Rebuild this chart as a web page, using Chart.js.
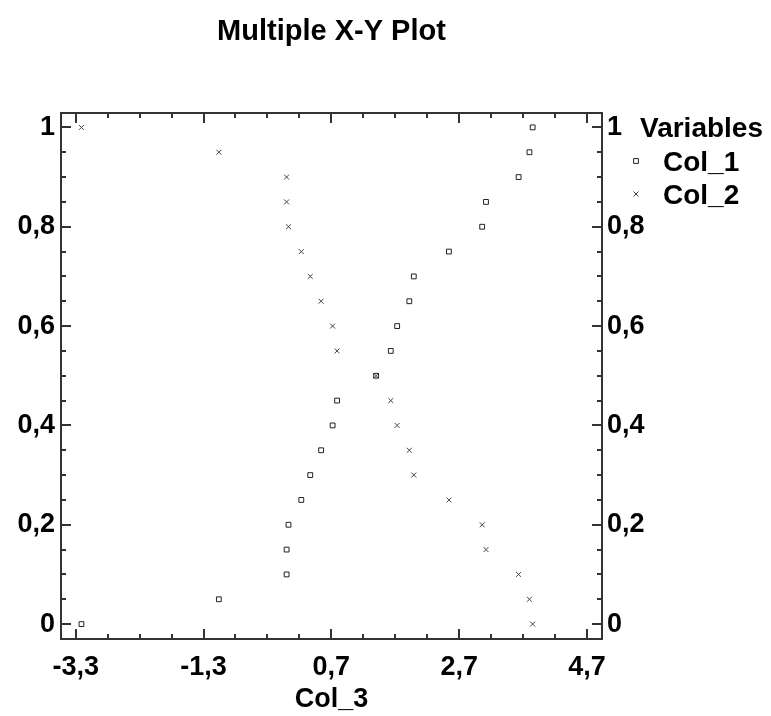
<!DOCTYPE html>
<html>
<head>
<meta charset="utf-8">
<script src="https://cdn.jsdelivr.net/npm/chart.js@4.4.1/dist/chart.umd.min.js"></script>
<style>
    body { margin: 0; background: #fff; }
</style>
</head>
<body>
<canvas id="grafica" width="771" height="716"></canvas>
<script>
// valores de Col_3 (eje x)
const col3 = [-3.21, -1.06, 0.0, 0.0, 0.03, 0.23, 0.37, 0.54, 0.72, 0.79, 1.40,
              1.63, 1.73, 1.92, 1.99, 2.54, 3.06, 3.12, 3.63, 3.80, 3.85];
const col1 = [0, 0.05, 0.1, 0.15, 0.2, 0.25, 0.3, 0.35, 0.4, 0.45, 0.5,
              0.55, 0.6, 0.65, 0.7, 0.75, 0.8, 0.85, 0.9, 0.95, 1];
const col2 = [1, 0.95, 0.9, 0.85, 0.8, 0.75, 0.7, 0.65, 0.6, 0.55, 0.5,
              0.45, 0.4, 0.35, 0.3, 0.25, 0.2, 0.15, 0.1, 0.05, 0];
const nombres = ['Col_1', 'Col_2'];
const xTicks = [-3.3, -1.3, 0.7, 2.7, 4.7];
const yTicks = [0, 0.2, 0.4, 0.6, 0.8, 1];

const fuente = { family: '"Liberation Sans", Arial, sans-serif', size: 27, weight: 'bold' };
const coma = v => String(v).replace('.', ',');
const sinRejilla = { display: false, drawTicks: false, tickLength: 0 };

function puntos(ys) {
    return col3.map((x, i) => ({ x: x, y: ys[i] }));
}

// marco, marcas interiores, titulo y leyenda
const marco = {
    id: 'marco',
    afterDraw(chart) {
        const ctx = chart.ctx;
        const a = chart.chartArea;
        const sx = chart.scales.x, sy = chart.scales.y;
        ctx.save();
        ctx.strokeStyle = '#333';
        ctx.lineWidth = 2;
        ctx.strokeRect(a.left, a.top, a.right - a.left, a.bottom - a.top);

        ctx.beginPath();
        for (let i = 0; i <= 16; i++) {
            const px = Math.round(sx.getPixelForValue(xTicks[0] + i * 0.5));
            const len = i % 4 === 0 ? 10 : 5;
            ctx.moveTo(px, a.bottom); ctx.lineTo(px, a.bottom - len);
            ctx.moveTo(px, a.top); ctx.lineTo(px, a.top + len);
        }
        for (let i = 0; i <= 20; i++) {
            const py = Math.round(sy.getPixelForValue(i * 0.05));
            const len = i % 4 === 0 ? 10 : 5;
            ctx.moveTo(a.left, py); ctx.lineTo(a.left + len, py);
            ctx.moveTo(a.right, py); ctx.lineTo(a.right - len, py);
        }
        ctx.stroke();

        ctx.fillStyle = '#000';
        ctx.font = 'bold 29px "Liberation Sans", Arial, sans-serif';
        ctx.textAlign = 'center';
        ctx.textBaseline = 'alphabetic';
        ctx.fillText('Multiple X-Y Plot', (a.left + a.right) / 2, 40);

        // leyenda
        ctx.textAlign = 'left';
        ctx.font = 'bold 28px "Liberation Sans", Arial, sans-serif';
        ctx.fillText('Variables', 640, 137);
        chart.data.datasets.forEach((ds, i) => {
            const ly = 161 + i * 33;
            ctx.fillStyle = 'rgba(0,0,0,0)';
            ctx.strokeStyle = ds.borderColor;
            ctx.lineWidth = 1;
            Chart.helpers.drawPoint(ctx, {
                pointStyle: ds.pointStyle, rotation: 0,
                radius: ds.pointRadius, borderWidth: 1
            }, 636, ly);
            ctx.fillStyle = '#000';
            ctx.fillText(ds.label, 663, ly + 10);
        });
        ctx.restore();
    }
};

const ctx = document.getElementById('grafica').getContext('2d');
new Chart(ctx, {
    type: 'scatter',
    data: {
        datasets: [{
            label: nombres[0],
            data: puntos(col1),
            pointStyle: 'rect',
            pointRadius: 3.4,
            borderColor: '#222',
            backgroundColor: 'rgba(0,0,0,0)',
            borderWidth: 1
        }, {
            label: nombres[1],
            data: puntos(col2),
            pointStyle: 'crossRot',
            pointRadius: 3.5,
            borderColor: '#444',
            backgroundColor: '#444',
            borderWidth: 1
        }]
    },
    options: {
        responsive: false,
        animation: false,
        layout: { padding: { top: 113, left: 0, right: 0, bottom: 0 } },
        plugins: {
            legend: { display: false },
            title: { display: false },
            tooltip: { enabled: false }
        },
        scales: {
            x: {
                type: 'linear',
                min: -3.53,
                max: 4.935,
                afterBuildTicks: s => { s.ticks = xTicks.map(v => ({ value: v })); },
                afterFit: s => { s.height = 77; },
                grid: sinRejilla,
                border: { display: false },
                ticks: {
                    color: '#000',
                    font: fuente,
                    padding: 12,
                    maxRotation: 0,
                    autoSkip: false,
                    callback: v => coma(v)
                },
                title: {
                    display: true,
                    text: 'Col_3',
                    color: '#000',
                    font: fuente,
                    padding: { top: 0, bottom: 0 }
                }
            },
            y: {
                type: 'linear',
                position: 'left',
                min: -0.03,
                max: 1.029,
                afterBuildTicks: s => { s.ticks = yTicks.map(v => ({ value: v })); },
                afterFit: s => { s.width = 61; },
                grid: sinRejilla,
                border: { display: false },
                ticks: {
                    color: '#000',
                    font: fuente,
                    padding: 6,
                    autoSkip: false,
                    callback: v => coma(v)
                }
            },
            y2: {
                type: 'linear',
                position: 'right',
                min: -0.03,
                max: 1.029,
                afterBuildTicks: s => { s.ticks = yTicks.map(v => ({ value: v })); },
                afterFit: s => { s.width = 169; },
                grid: sinRejilla,
                border: { display: false },
                ticks: {
                    color: '#000',
                    font: fuente,
                    padding: 5,
                    autoSkip: false,
                    callback: v => coma(v)
                }
            }
        }
    },
    plugins: [marco]
});
</script>
</body>
</html>
